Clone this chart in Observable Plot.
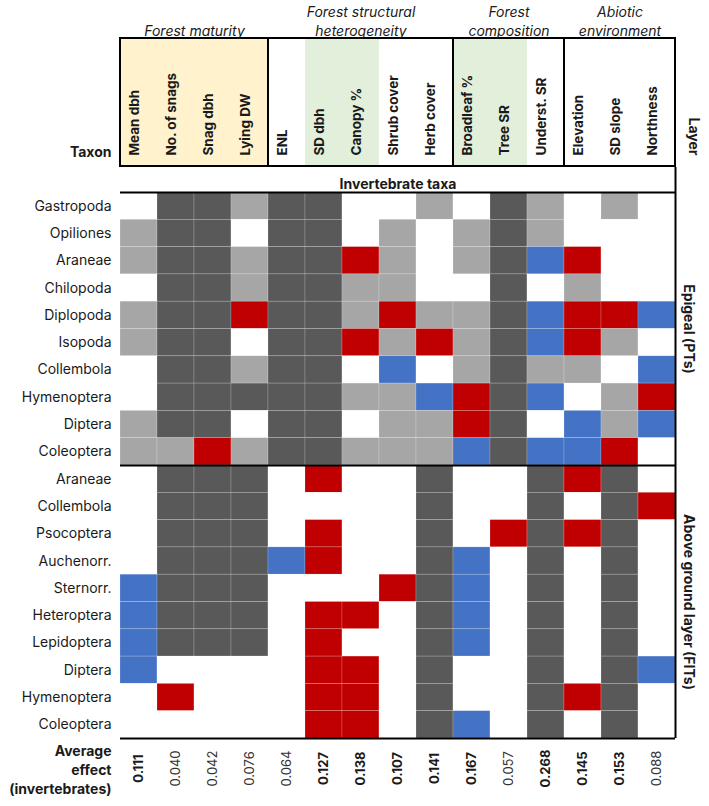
<!DOCTYPE html>
<html>
<head>
<meta charset="utf-8">
<script src="https://cdn.jsdelivr.net/npm/d3@7"></script>
<script src="https://cdn.jsdelivr.net/npm/@observablehq/plot@0.6"></script>
<style>
  body { margin: 0; background: #fff; }
  #chart svg { display: block; }
</style>
</head>
<body>
<div id="chart"></div>
<script>
// Environmental predictors (columns), grouped into four themes
const predictors = ["Mean dbh", "No. of snags", "Snag dbh", "Lying DW", "ENL", "SD dbh", "Canopy %",
  "Shrub cover", "Herb cover", "Broadleaf %", "Tree SR", "Underst. SR", "Elevation", "SD slope", "Northness"];
const groupNames = ["Forest maturity", "Forest structural\nheterogeneity", "Forest\ncomposition", "Abiotic\nenvironment"];
const groupSizes = [4, 5, 3, 3];
// header background per predictor
const columnShade = ["cream", "cream", "cream", "cream", "none", "green", "green", "none", "none",
  "green", "green", "none", "none", "none", "none"];

// Taxa per sampling layer
const layerNames = ["Epigeal (PTs)", "Above ground layer (FITs)"];
const epigealTaxa = ["Gastropoda", "Opiliones", "Araneae", "Chilopoda", "Diplopoda", "Isopoda",
  "Collembola", "Hymenoptera", "Diptera", "Coleoptera"];
const aboveGroundTaxa = ["Araneae", "Collembola", "Psocoptera", "Auchenorr.", "Sternorr.", "Heteroptera",
  "Lepidoptera", "Diptera", "Hymenoptera", "Coleoptera"];

// Effect of each predictor on each taxon, one letter per predictor:
// R positive, B negative, L not significant, D not in model, W no effect
const epigealEffects = [
  "WDDLDDWWLWDLWLW",
  "LDDWDDWLWLDLWWW",
  "LDDLDDRLWLDBRWW",
  "WDDLDDLLWWDWLWW",
  "LDDRDDLRLLDBRRB",
  "LDDWDDRLRLDBRLW",
  "WDDLDDWBWLDLLWB",
  "WDDDDDLLBRDBWLR",
  "LDDWDDWLLRDWBLB",
  "LLRLDDLLLBDBBRW"
];
const aboveGroundEffects = [
  "WDDDWRWWDWWDRDW",
  "WDDDWWWWDWWDWDR",
  "WDDDWRWWDWRDRDW",
  "WDDDBRWWDBWDWDW",
  "BDDDWWWRDBWDWDW",
  "BDDDWRRWDBWDWDW",
  "BDDDWRWWDBWDWDW",
  "BWWWWRRWDWWDWDB",
  "WRWWWRRWDWWDRDW",
  "WWWWWRRWDBWDWDW"
];
const effectCodes = ["R", "B", "L", "D", "W"];
const effectColors = ["#C00000", "#4472C4", "#A6A6A6", "#595959", "#FFFFFF"];

// Average effect size per predictor across invertebrates
const averageEffect = [0.111, 0.040, 0.042, 0.076, 0.064, 0.127, 0.138, 0.107, 0.141, 0.167,
  0.057, 0.268, 0.145, 0.153, 0.088];

const FONT = "Inter, 'Noto Sans', sans-serif";
const INK = "#1a1a1a";
const shadeFill = {cream: "#FFF2CC", green: "#E2EFDA", none: "#FFFFFF"};
const W = 709, ML = 120, MR = 34;
const nCol = predictors.length;

const columns = predictors.map((p, i) => ({p, i, shade: columnShade[i]}));
let acc = 0;
const groups = groupNames.map((g, k) => {
  const x1 = acc; acc += groupSizes[k];
  return {g, x1, x2: acc};
});

const layers = [epigealTaxa, aboveGroundTaxa];
const layerEffects = [epigealEffects, aboveGroundEffects];
const rows = [];
const layerSpans = [];
layers.forEach((taxa, l) => {
  const r0 = rows.length;
  taxa.forEach((t, k) => rows.push({t, r: rows.length, codes: layerEffects[l][k]}));
  layerSpans.push({name: layerNames[l], y1: r0, y2: rows.length});
});
const nRow = rows.length;
const cells = rows.flatMap(row => predictors.map((p, i) => ({r: row.r, i, code: row.codes[i]})));
const averages = averageEffect.map((v, i) => ({v, i}));

// Header: group boxes, shaded columns and rotated predictor names
const header = Plot.plot({
  width: W, height: 167,
  marginTop: 38, marginBottom: 1, marginLeft: ML, marginRight: MR,
  x: {domain: [0, nCol], axis: null},
  style: {fontFamily: FONT, color: INK, overflow: "visible"},
  marks: [
    Plot.rect(columns, {x1: "i", x2: d => d.i + 1, fill: d => shadeFill[d.shade]}),
    Plot.rect(groups, {x1: "x1", x2: "x2", fill: "none", stroke: "black", strokeWidth: 2}),
    Plot.text(columns, {x: d => d.i + 0.5, text: "p", frameAnchor: "bottom", rotate: -90,
      textAnchor: "start", dy: -11, fontWeight: "bold", fontSize: 13.5, fill: INK}),
    Plot.text(groups, {x: d => (d.x1 + d.x2) / 2, text: "g", frameAnchor: "top", lineAnchor: "bottom",
      dy: -3, fontStyle: "italic", fontSize: 14, lineHeight: 1.3, fill: INK}),
    Plot.text(["Taxon"], {frameAnchor: "bottom-left", textAnchor: "end", dx: -9, dy: -10,
      fontWeight: "bold", fontSize: 14, fill: INK}),
    Plot.text(["Layer"], {frameAnchor: "bottom-right", rotate: 90, textAnchor: "end", dx: 13, dy: -11,
      fontWeight: "bold", fontSize: 14, fill: INK})
  ]
});

// Body: effect grid, taxon names, layer names and average effects
const body = Plot.plot({
  width: W, height: 639,
  marginTop: 25, marginBottom: 68, marginLeft: ML, marginRight: MR,
  x: {domain: [0, nCol], axis: null},
  y: {domain: [0, nRow], reverse: true, axis: null},
  color: {type: "ordinal", domain: effectCodes, range: effectColors},
  style: {fontFamily: FONT, color: INK, overflow: "visible"},
  marks: [
    Plot.rect(cells, {x1: "i", x2: d => d.i + 1, y1: "r", y2: d => d.r + 1, fill: "code",
      stroke: "white", strokeOpacity: 0.3, strokeWidth: 0.6}),
    Plot.ruleY([0, ...layerSpans.map(s => s.y2)], {x1: 0, x2: nCol, stroke: "black", strokeWidth: 2}),
    Plot.ruleX([nCol], {y1: 0, y2: nRow, insetTop: -25, stroke: "black", strokeWidth: 2}),
    Plot.text(["Invertebrate taxa"], {x: nCol / 2, frameAnchor: "top", dy: -13,
      fontWeight: "bold", fontSize: 14, fill: INK}),
    Plot.text(rows, {x: 0, y: d => d.r + 0.5, text: "t", textAnchor: "end", dx: -9,
      fontSize: 14, fill: INK}),
    Plot.text(layerSpans, {x: nCol, y: d => (d.y1 + d.y2) / 2, text: "name", rotate: 90, dx: 13,
      fontWeight: "bold", fontSize: 14, fill: INK}),
    Plot.text(averages, {filter: d => d.v >= 0.1, x: d => d.i + 0.5, y: nRow, text: d => d.v.toFixed(3),
      rotate: -90, dy: 30, fontWeight: "bold", fontSize: 13, fill: INK}),
    Plot.text(averages, {filter: d => d.v < 0.1, x: d => d.i + 0.5, y: nRow, text: d => d.v.toFixed(3),
      rotate: -90, dy: 30, fontWeight: "normal", fontSize: 13, fill: "#333"}),
    Plot.text(["Average\neffect\n(invertebrates)"], {x: 0, y: nRow, textAnchor: "end", lineAnchor: "top",
      dx: -9, dy: 4, lineHeight: 1.35, fontWeight: "bold", fontSize: 14, fill: INK})
  ]
});

document.getElementById("chart").append(header, body);
</script>
</body>
</html>
